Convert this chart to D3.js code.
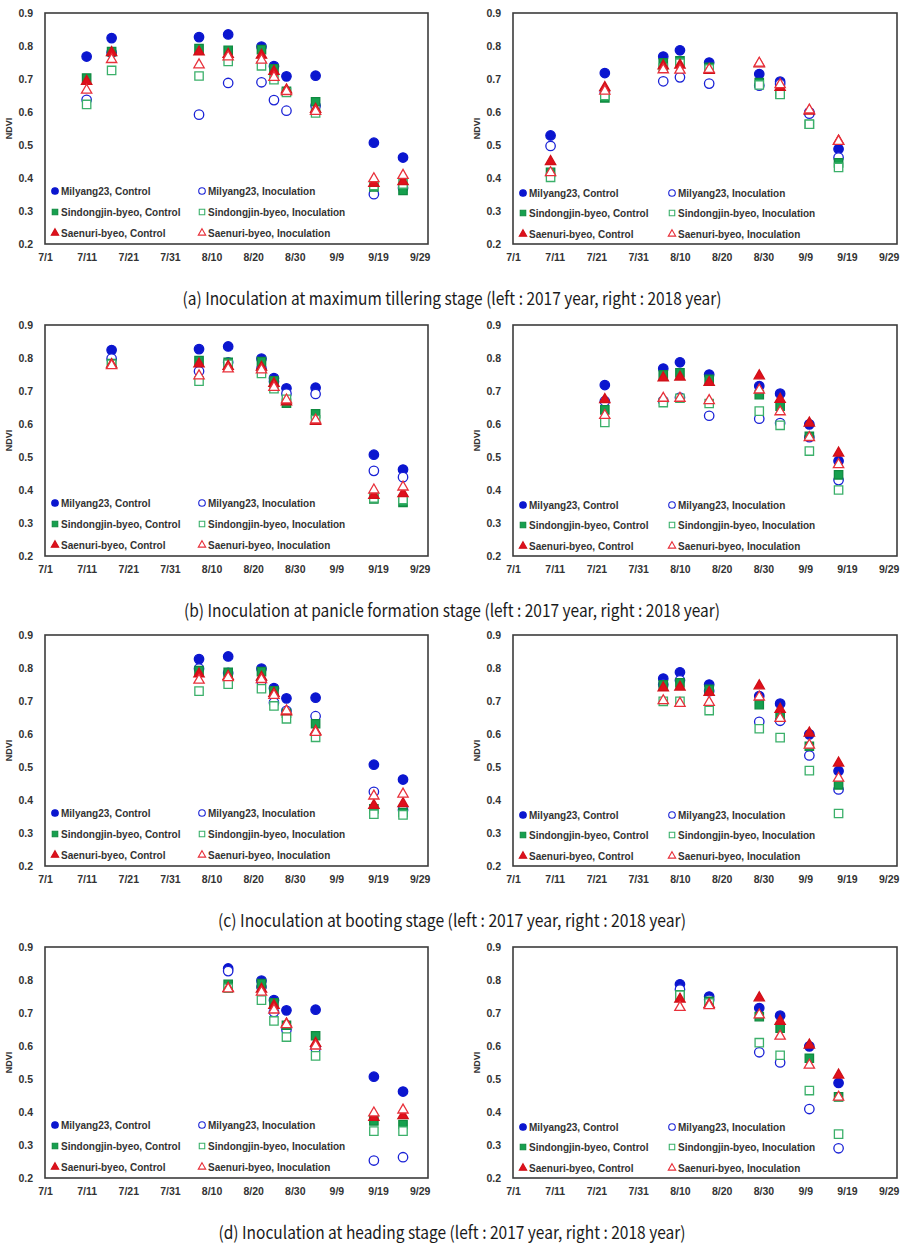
<!DOCTYPE html>
<html><head><meta charset="utf-8">
<script src="https://cdn.jsdelivr.net/npm/d3@7/dist/d3.min.js"></script>
<style>body{margin:0;background:#fff}</style>
</head><body>
<svg id="chart" width="907" height="1245"></svg>
<script>
// ---------- DATA ----------
const dates2017 = ["7/11","7/17","8/7","8/14","8/22","8/25","8/28","9/4","9/18","9/25"];
const dates2018 = ["7/10","7/23","8/6","8/10","8/17","8/29","9/3","9/10","9/17"];
const xTickLabels = ["7/1","7/11","7/21","7/31","8/10","8/20","8/30","9/9","9/19","9/29"];
const yTickValues = [0.2,0.3,0.4,0.5,0.6,0.7,0.8,0.9];
const seriesNames = ["Milyang23, Control","Milyang23, Inoculation","Sindongjin-byeo, Control","Sindongjin-byeo, Inoculation","Saenuri-byeo, Control","Saenuri-byeo, Inoculation"];
const captions = [
  "(a) Inoculation at maximum tillering stage (left : 2017 year, right : 2018 year)",
  "(b) Inoculation at panicle formation stage (left : 2017 year, right : 2018 year)",
  "(c) Inoculation at booting stage (left : 2017 year, right : 2018 year)",
  "(d) Inoculation at heading stage (left : 2017 year, right : 2018 year)"
];

// 2017 controls (shared by all stages)
const milyangControl2017    = [0.768,0.824,0.827,0.835,0.798,0.739,0.708,0.710,0.507,0.462];
const sindongjinControl2017 = [0.703,0.783,0.792,0.787,0.789,0.731,0.663,0.631,0.373,0.362];
const saenuriControl2017    = [0.693,0.780,0.782,0.775,0.772,0.723,0.667,0.608,0.384,0.389];
// 2018 controls
const milyangControl2018    = [0.529,0.718,0.768,0.787,0.750,0.715,0.692,0.599,0.488];
const sindongjinControl2018 = [0.417,0.643,0.749,0.755,0.735,0.689,0.654,0.563,0.446];
const saenuriControl2018    = [0.450,0.674,0.740,0.742,0.726,0.746,0.675,0.603,0.512];

// 2017 inoculation
const milyangInocA2017    = [0.637,0.780,0.592,0.688,0.690,0.636,0.604,0.619,0.351,0.370];
const sindongjinInocA2017 = [0.623,0.726,0.709,0.753,0.740,0.698,0.659,0.597,0.377,0.382];
const saenuriInocA2017    = [0.666,0.759,0.743,0.767,0.757,0.705,0.662,0.602,0.398,0.408];
const milyangInocB2017    = [null,0.798,0.760,0.787,0.768,0.729,0.692,0.691,0.458,0.439];
const sindongjinInocB2017 = [null,0.781,0.730,0.781,0.753,0.707,0.675,0.613,0.376,0.371];
const saenuriInocB2017    = [null,0.777,0.746,0.767,0.764,0.711,0.673,0.612,0.400,0.409];
const milyangInocC2017    = [null,null,0.798,0.785,0.760,0.695,0.670,0.654,0.425,0.370];
const sindongjinInocC2017 = [null,null,0.730,0.751,0.737,0.685,0.646,0.590,0.357,0.355];
const saenuriInocC2017    = [null,null,0.763,0.771,0.765,0.717,0.670,0.605,0.412,0.418];
const milyangInocD2017    = [null,null,null,0.827,0.779,0.703,0.649,0.593,0.253,0.263];
const sindongjinInocD2017 = [null,null,null,0.775,0.739,0.676,0.627,0.570,0.342,0.342];
const saenuriInocD2017    = [null,null,null,0.773,0.763,0.709,0.665,0.600,0.397,0.406];

// 2018 inoculation
const milyangInocA2018    = [0.497,0.660,0.693,0.705,0.686,0.680,0.685,0.595,0.462];
const sindongjinInocA2018 = [0.402,0.650,0.733,0.748,0.730,0.682,0.653,0.563,0.432];
const saenuriInocA2018    = [0.416,0.663,0.728,0.727,0.729,0.748,0.683,0.606,0.511];
const milyangInocB2018    = [null,0.669,0.670,0.680,0.625,0.616,0.603,0.560,0.430];
const sindongjinInocB2018 = [null,0.605,0.665,0.678,0.662,0.639,0.596,0.518,0.400];
const saenuriInocB2018    = [null,0.626,0.678,0.678,0.671,0.703,0.637,0.559,0.477];
const milyangInocC2018    = [null,null,0.750,0.763,0.730,0.637,0.640,0.535,0.432];
const sindongjinInocC2018 = [null,null,0.699,0.699,0.671,0.616,0.589,0.489,0.359];
const saenuriInocC2018    = [null,null,0.701,0.693,0.696,0.712,0.647,0.566,0.466];
const milyangInocD2018    = [null,null,null,0.771,0.740,0.581,0.550,0.409,0.290];
const sindongjinInocD2018 = [null,null,null,0.754,0.730,0.610,0.572,0.465,0.333];
const saenuriInocD2018    = [null,null,null,0.717,0.722,0.694,0.630,0.542,0.445];

// first date index shown for each stage (a..d)
const stageStart = [0,1,2,3];

// ---------- STYLE ----------
const FONT = "Arial, 'Liberation Sans', sans-serif";
const styles = [
  {shape:"circle",   fill:"#0b16cf", stroke:"#0b16cf"},
  {shape:"circle",   fill:"#ffffff", stroke:"#1a22d6"},
  {shape:"square",   fill:"#16a04e", stroke:"#0f8a40"},
  {shape:"square",   fill:"#ffffff", stroke:"#3bb06a"},
  {shape:"triangle", fill:"#e0101c", stroke:"#d01018"},
  {shape:"triangle", fill:"#ffffff", stroke:"#e8303a"}
];
const symType = {circle:d3.symbolCircle, square:d3.symbolSquare, triangle:d3.symbolTriangle};
const symSize = {circle:70, square:70, triangle:46};
const legSize = {circle:34, square:30, triangle:24};
const captionWidths = [539, 536, 468, 467];

const svg = d3.select("#chart");
const rowTop = [13, 325, 635, 947];
const plotH = 231;
const sides = [
  {left:45, width:383, year:2017, dates:dates2017,
   controls:[milyangControl2017, sindongjinControl2017, saenuriControl2017],
   inoc:[[milyangInocA2017,sindongjinInocA2017,saenuriInocA2017],
         [milyangInocB2017,sindongjinInocB2017,saenuriInocB2017],
         [milyangInocC2017,sindongjinInocC2017,saenuriInocC2017],
         [milyangInocD2017,sindongjinInocD2017,saenuriInocD2017]],
   legRows:[-53,-32,-11], legCol2:157},
  {left:513, width:384, year:2018, dates:dates2018,
   controls:[milyangControl2018, sindongjinControl2018, saenuriControl2018],
   inoc:[[milyangInocA2018,sindongjinInocA2018,saenuriInocA2018],
         [milyangInocB2018,sindongjinInocB2018,saenuriInocB2018],
         [milyangInocC2018,sindongjinInocC2018,saenuriInocC2018],
         [milyangInocD2018,sindongjinInocD2018,saenuriInocD2018]],
   legRows:[-51,-31,-10], legCol2:159}
];

function parseDate(s, year){ const [m,d] = s.split("/").map(Number); return new Date(year, m-1, d); }

rowTop.forEach((top, r) => {
  sides.forEach(side => {
    const g = svg.append("g").attr("transform", `translate(${side.left},${top})`);
    const x = d3.scaleTime()
      .domain([new Date(side.year,6,1), new Date(side.year,9,1)])
      .range([0, side.width]);
    const y = d3.scaleLinear().domain([0.2,0.9]).range([plotH,0]);

    const xTicks = xTickLabels.map(s => parseDate(s, side.year));
    const xAxis = g.append("g").attr("transform", `translate(0,${plotH})`)
      .call(d3.axisBottom(x).tickValues(xTicks)
        .tickFormat(d => `${d.getMonth()+1}/${d.getDate()}`).tickSize(0).tickPadding(10));
    const yAxis = g.append("g")
      .call(d3.axisLeft(y).tickValues(yTickValues).tickFormat(d3.format(".1f")).tickSize(0).tickPadding(12));
    [xAxis, yAxis].forEach(a => {
      a.select(".domain").remove();
      a.selectAll("text").attr("font-family",FONT)
        .attr("font-weight","bold").attr("font-size","10.5px").attr("fill","#333");
    });

    g.append("text")
      .attr("transform", `translate(-33,${plotH/2}) rotate(-90)`)
      .attr("text-anchor","middle")
      .attr("font-family",FONT)
      .attr("font-weight","bold").attr("font-size","9px").attr("fill","#333")
      .text("NDVI");

    // series
    const seriesArrays = [
      side.controls[0], side.inoc[r][0],
      side.controls[1], side.inoc[r][1],
      side.controls[2], side.inoc[r][2]
    ];
    seriesArrays.forEach((arr, si) => {
      const st = styles[si];
      const pts = side.dates.map((d,i) => ({date:parseDate(d, side.year), v:arr[i], i}))
        .filter(p => p.i >= stageStart[r] && p.v != null);
      g.append("g").selectAll("path").data(pts).join("path")
        .attr("transform", p => `translate(${x(p.date)},${y(p.v)})`)
        .attr("d", d3.symbol().type(symType[st.shape]).size(symSize[st.shape]))
        .attr("fill", st.fill).attr("stroke", st.stroke).attr("stroke-width", 1.3);
    });

    // frame
    g.append("rect").attr("x",0).attr("y",0).attr("width",side.width).attr("height",plotH)
      .attr("fill","none").attr("stroke","#3c3c3c").attr("stroke-width",1.6);

    // legend
    seriesNames.forEach((name, si) => {
      const st = styles[si];
      const col = si % 2, row = Math.floor(si/2);
      const lx = col === 0 ? 10 : side.legCol2;
      const ly = plotH + side.legRows[row];
      g.append("path").attr("transform", `translate(${lx},${ly})`)
        .attr("d", d3.symbol().type(symType[st.shape]).size(legSize[st.shape]))
        .attr("fill", st.fill).attr("stroke", st.stroke).attr("stroke-width", 1.1);
      g.append("text").attr("x", lx+6).attr("y", ly+3.6)
        .attr("font-family",FONT)
        .attr("font-weight","bold").attr("font-size","10px").attr("fill","#333")
        .text(name);
    });
  });

  svg.append("text")
    .attr("x", 452).attr("y", top + plotH + 61)
    .attr("text-anchor","middle")
    .attr("font-family","'Noto Sans CJK KR', 'Liberation Sans Narrow', Arial, sans-serif")
    .attr("font-size","17.5px").attr("fill","#1a1a1a")
    .attr("textLength", captionWidths[r]).attr("lengthAdjust","spacingAndGlyphs")
    .text(captions[r]);
});
</script>
</body></html>
